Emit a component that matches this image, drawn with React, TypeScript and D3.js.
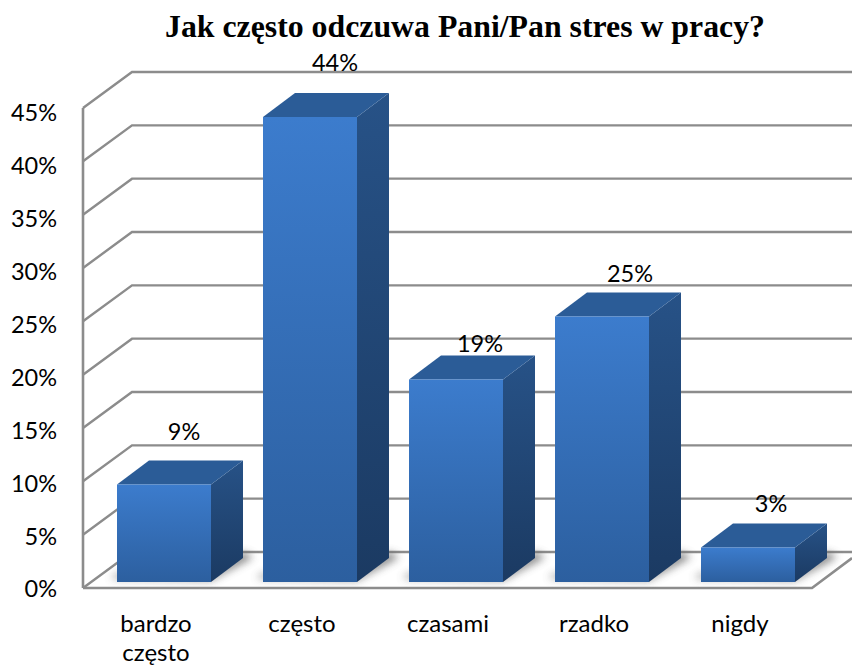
import React from "react";
import * as d3 from "d3";

const categories = ["bardzo często", "często", "czasami", "rzadko", "nigdy"];
const shares = [9, 44, 19, 25, 3];
const tickValues = [0, 5, 10, 15, 20, 25, 30, 35, 40, 45];
const titleText = "Jak często odczuwa Pani/Pan stres w pracy?";

// Per-bar placement of the value label, relative to the front face's top-left corner
const labelLift = [53, 54, 36, 43, 44];
const labelShift = [67, 72, 71, 75, 70];

const W = 852, H = 666;
const wall = { dx: 49, dy: -36 };
const depth = { dx: 32, dy: -24 };
const barW = 94, barBase = 582;

const xBand = d3.scaleBand<string>().domain(categories).range([83, 813]);
const yAxis = d3.scaleLinear().domain([0, 45]).range([588, 108]);
const yTickLabel = d3.scaleLinear().domain([0, 45]).range([589, 113]);
const yBar = d3.scaleLinear().domain([0, 44]).range([579, 117]);

const pts = (p: number[][]) => p.map((q) => q.join(",")).join(" ");
const font = "Lato, Carlito, sans-serif";
const gridColor = "#8c8c8c";

export default function App() {
  return (
    <svg width={W} height={H} viewBox={`0 0 ${W} ${H}`}
      style={{ position: "absolute", left: 0, top: 0, background: "#fff" }}>
      <defs>
        <linearGradient id="front" x1="0" y1="0" x2="0" y2="1">
          <stop offset="0" stopColor="#3c7ccd" />
          <stop offset="1" stopColor="#2c5f9f" />
        </linearGradient>
        <linearGradient id="side" x1="0" y1="0" x2="0" y2="1">
          <stop offset="0" stopColor="#275287" />
          <stop offset="1" stopColor="#1b3a62" />
        </linearGradient>
        <filter id="floorShadow" x="-30%" y="-60%" width="160%" height="220%">
          <feGaussianBlur stdDeviation="4" />
        </filter>
      </defs>

      <text x={465} y={37} textAnchor="middle" fontFamily="'Liberation Serif', serif"
        fontWeight="bold" fontSize={31.8} fill="#000">{titleText}</text>

      {/* Wall gridlines: a diagonal from the front edge, then along the back */}
      <g fill="none" stroke={gridColor} strokeWidth={2.4}>
        {tickValues.map((t) => {
          const y = yAxis(t);
          return (
            <polyline key={t} points={pts([[83, y], [83 + wall.dx, y + wall.dy], [W, y + wall.dy]])} />
          );
        })}
        <line x1={83} x2={83} y1={yAxis(45)} y2={yAxis(0)} strokeWidth={2.6} />
        <polyline strokeWidth={2.6} points={pts([[83, 588], [812, 588], [W, 558]])} />
      </g>

      {/* Soft shadows cast on the floor around each bar */}
      {categories.map((c) => {
        const x0 = xBand(c)! + xBand.bandwidth() / 2 - 39;
        return (
          <polygon key={c} filter="url(#floorShadow)" fill="#666" opacity={0.85}
            points={pts([
              [x0 - 7, barBase - 4],
              [x0 + barW, barBase - 2],
              [x0 + barW + depth.dx + 10, barBase + depth.dy - 1],
              [x0 + barW + depth.dx, barBase + depth.dy - 6],
              [x0 + barW, barBase - 8],
              [x0, barBase - 8],
            ])} />
        );
      })}

      {categories.map((c, i) => {
        const x0 = xBand(c)! + xBand.bandwidth() / 2 - 39;
        const x1 = x0 + barW;
        const top = yBar(shares[i]);
        return (
          <g key={c}>
            <polygon fill="url(#side)"
              points={pts([[x1, top], [x1 + depth.dx, top + depth.dy], [x1 + depth.dx, barBase + depth.dy], [x1, barBase]])} />
            <polygon fill="#2b5c97"
              points={pts([[x0, top], [x0 + depth.dx, top + depth.dy], [x1 + depth.dx, top + depth.dy], [x1, top]])} />
            <rect x={x0} y={top} width={barW} height={barBase - top} fill="url(#front)" />
            <text x={x0 + labelShift[i]} y={top - labelLift[i]} dy="0.36em" textAnchor="middle"
              fontFamily={font} fontSize={23.5} fill="#000">{shares[i]}%</text>
          </g>
        );
      })}

      {tickValues.map((t) => (
        <text key={t} x={57} y={yTickLabel(t)} dy="0.36em" textAnchor="end"
          fontFamily={font} fontSize={23.5} fill="#000">{t}%</text>
      ))}

      {categories.map((c) => {
        const cx = xBand(c)! + xBand.bandwidth() / 2;
        return c.split(" ").map((word, k) => (
          <text key={word} x={cx} y={623 + k * 29} dy="0.36em" textAnchor="middle"
            fontFamily={font} fontSize={24} fill="#000">{word}</text>
        ));
      })}
    </svg>
  );
}
